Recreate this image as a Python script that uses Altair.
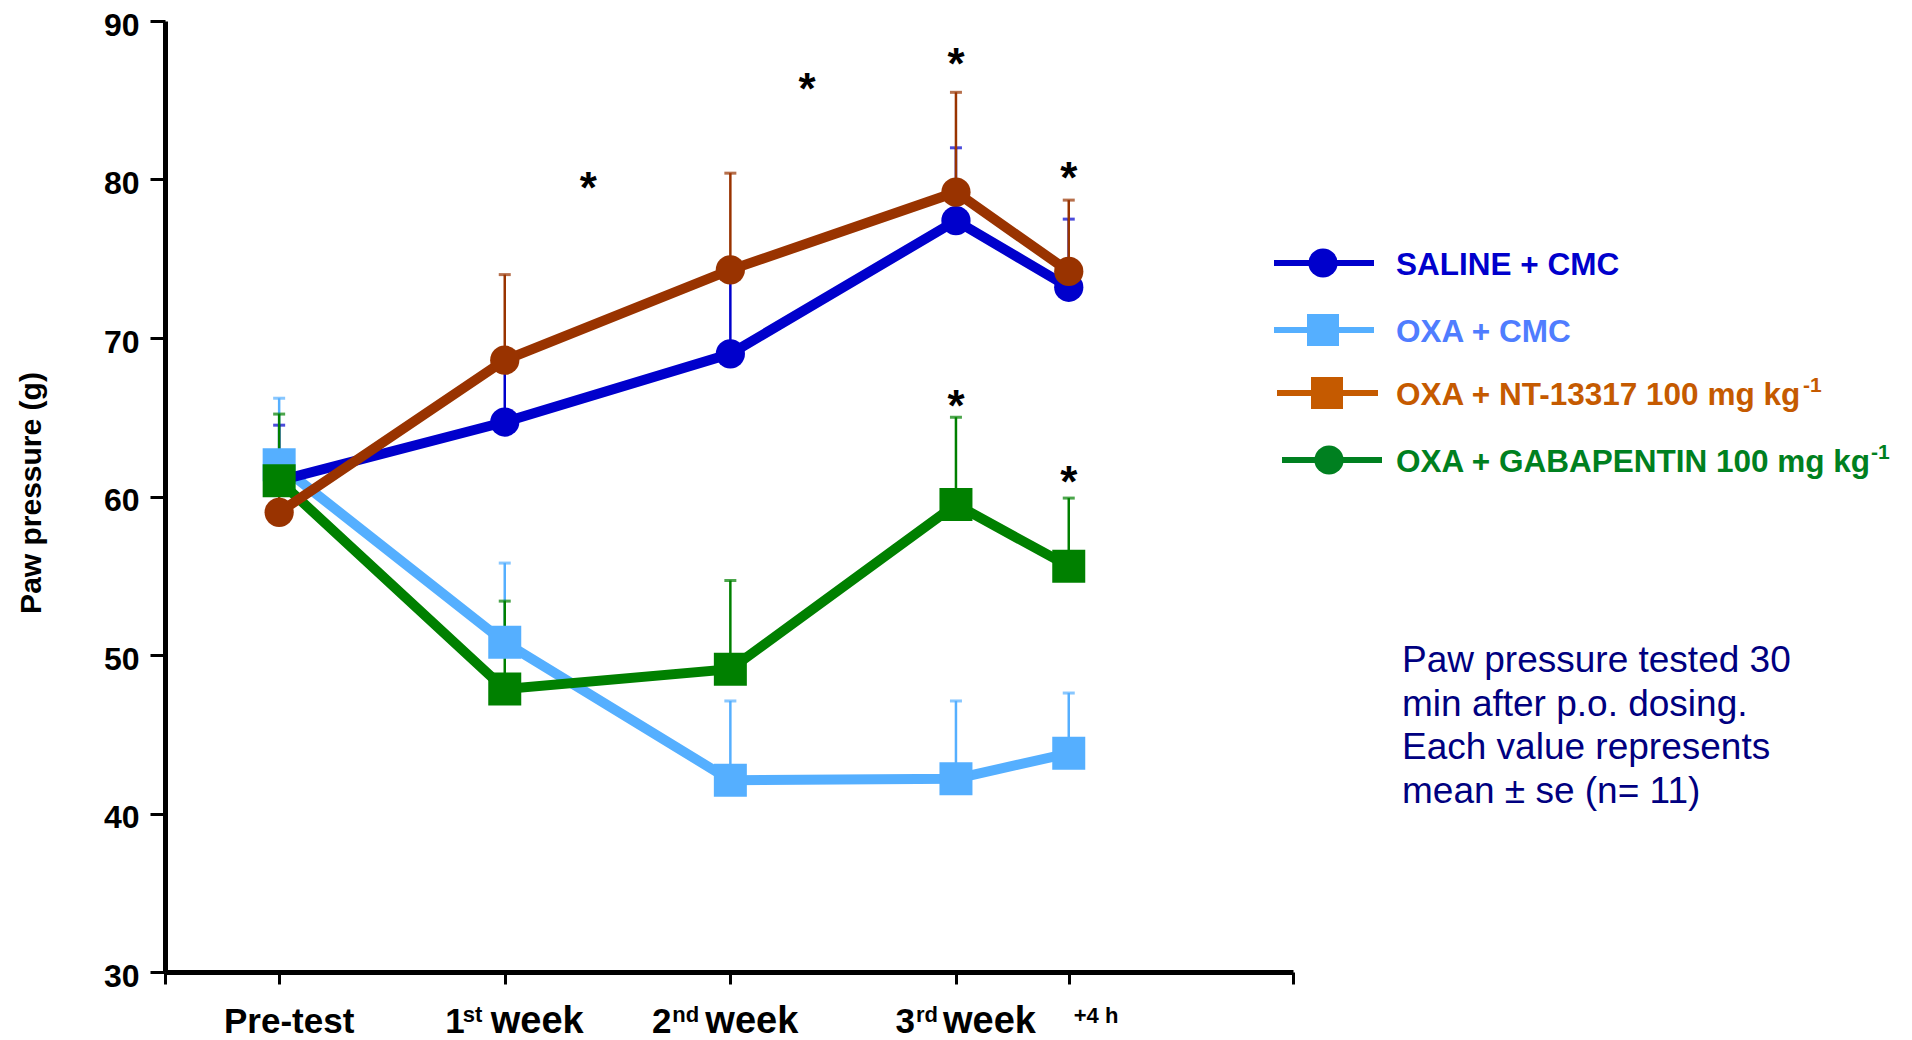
import altair as alt
import pandas as pd

# ---------------- data ----------------
timepoints = [0, 1, 2, 3, 3.5]
x_domain = [-0.506, 4.494]
y_ticks = [30, 40, 50, 60, 70, 80, 90]

series_names = ["OXA + CMC", "SALINE + CMC", "OXA + GABAPENTIN 100 mg kg-1", "OXA + NT-13317 100 mg kg-1"]
oxa_cmc_mean = [62.0, 50.8, 42.1, 42.2, 43.8]
oxa_cmc_upper = [66.2, 55.8, 47.1, 47.1, 47.6]
saline_mean = [61.0, 64.7, 69.0, 77.4, 73.2]
saline_upper = [64.5, 68.5, 74.5, 82.0, 77.5]
gaba_mean = [61.0, 47.85, 49.1, 59.5, 55.6]
gaba_upper = [65.2, 53.4, 54.7, 65.0, 59.9]
nt_mean = [59.0, 68.6, 74.3, 79.2, 74.2]
nt_upper = [62.5, 74.0, 80.4, 85.5, 78.7]

star_x = [1.37, 2.34, 3.0, 3.5, 3.0, 3.5]
star_y = [79.8, 86.0, 87.6, 80.4, 66.0, 61.25]

xlab_pos = [0, 1, 2, 3, 3.5]
xlab_num = ["Pre-test", "1", "2", "3", "+4 h"]
xlab_sup = ["", "st", "nd", "rd", ""]
xlab_word = ["", "week", "week", "week", ""]

legend_names = ["SALINE + CMC", "OXA + CMC", "OXA + NT-13317 100 mg kg", "OXA + GABAPENTIN 100 mg kg"]
legend_sup = ["", "", "-1", "-1"]

note_lines = ["Paw pressure tested 30", "min after p.o. dosing.",
              "Each value represents", "mean \u00b1 se (n= 11)"]
y_title = "Paw pressure (g)"

# ---------------- styles ----------------
plot_colors = ["#55AFFF", "#0000CC", "#008000", "#993300"]
plot_shapes = ["square", "circle", "square", "circle"]
means = [oxa_cmc_mean, saline_mean, gaba_mean, nt_mean]
uppers = [oxa_cmc_upper, saline_upper, gaba_upper, nt_upper]

legend_line_color = ["#0000CC", "#55AFFF", "#C55A00", "#008020"]
legend_text_color = ["#0000CC", "#4F7DFF", "#C55A00", "#008020"]
legend_shape = ["circle", "square", "square", "circle"]
legend_y = [242, 309, 372, 439]
legend_x1 = [1109, 1109, 1112, 1117]
legend_x2 = [1209, 1209, 1213, 1217]
legend_mx = [1158, 1158, 1162, 1164]
legend_text_x = 1231
legend_sup_x = [0, 0, 1638, 1706]

BOLD = "Liberation Sans"

x_axis = alt.Axis(values=[x_domain[0]] + timepoints + [x_domain[1]], labels=False, title=None,
                  grid=False, domainWidth=5, domainColor="black", tickColor="black",
                  tickWidth=3, tickSize=12)
y_axis = alt.Axis(values=y_ticks, title=None, grid=False, domainWidth=5, domainColor="black",
                  tickColor="black", tickWidth=3, tickSize=15, labelFont=BOLD,
                  labelFontWeight="bold", labelFontSize=32, labelColor="black", labelPadding=11,
                  labelOffset=4)


def X(field):
    return alt.X(f"{field}:Q", scale=alt.Scale(domain=x_domain, nice=False, zero=False), axis=x_axis)


def Y(field):
    return alt.Y(f"{field}:Q", scale=alt.Scale(domain=[30, 90], nice=False, zero=False), axis=y_axis)


one = pd.DataFrame({"k": [0]})
layers = []

# error bars
for name, m, u, c in zip(series_names, means, uppers, plot_colors):
    df = pd.DataFrame({"t": timepoints, "mean": m, "upper": u})
    base = alt.Chart(df)
    layers.append(base.mark_rule(color=c, strokeWidth=2.5).encode(x=X("t"), y=Y("mean"), y2="upper"))
    layers.append(base.mark_tick(color=c, orient="horizontal", size=12, thickness=3)
                  .encode(x=X("t"), y=Y("upper")))

# lines and markers
for name, m, c, s in zip(series_names, means, plot_colors, plot_shapes):
    df = pd.DataFrame({"t": timepoints, "mean": m})
    base = alt.Chart(df)
    layers.append(base.mark_line(color=c, strokeWidth=10).encode(x=X("t"), y=Y("mean")))
    layers.append(base.mark_point(shape=s, filled=True, opacity=1, color=c,
                                  size=855 if s == "circle" else 1089)
                  .encode(x=X("t"), y=Y("mean")))

# significance stars
stars = pd.DataFrame({"t": star_x, "v": star_y})
layers.append(alt.Chart(stars).mark_text(text="*", font=BOLD, fontWeight="bold", fontSize=44,
                                         color="black", baseline="alphabetic", dy=20)
              .encode(x=X("t"), y=Y("v")))

# x tick labels
num_dx = [10, -40, -59, -41, 5]
num_align = ["center", "right", "right", "right", "left"]
sup_dx = [0, -42, -58, -40, 0]
word_dx = [0, -14, -25, -13, 0]
for i, p in enumerate(xlab_pos):
    d = pd.DataFrame({"t": [p]})
    small = xlab_num[i].startswith("+")
    layers.append(alt.Chart(d).mark_text(text=xlab_num[i], font=BOLD, fontWeight="bold",
                                         fontSize=22 if small else 35, color="black",
                                         align=num_align[i], baseline="alphabetic", dx=num_dx[i])
                  .encode(x=X("t"), y=alt.value(1002 if small else 1012)))
    if xlab_sup[i]:
        layers.append(alt.Chart(d).mark_text(text=xlab_sup[i], font=BOLD, fontWeight="bold",
                                             fontSize=22, color="black", align="left",
                                             baseline="alphabetic", dx=sup_dx[i])
                      .encode(x=X("t"), y=alt.value(1001)))
    if xlab_word[i]:
        layers.append(alt.Chart(d).mark_text(text=xlab_word[i], font=BOLD, fontWeight="bold",
                                             fontSize=38, color="black", align="left",
                                             baseline="alphabetic", dx=word_dx[i])
                      .encode(x=X("t"), y=alt.value(1012)))

# y axis title
layers.append(alt.Chart(one).mark_text(text=y_title, font=BOLD, fontWeight="bold", fontSize=30,
                                       color="black", angle=270, align="center", baseline="middle")
              .encode(x=alt.value(-133), y=alt.value(472)))

# legend
for i, nm in enumerate(legend_names):
    c = legend_line_color[i]
    layers.append(alt.Chart(one).mark_rule(color=c, strokeWidth=6)
                  .encode(x=alt.value(legend_x1[i]), x2=alt.value(legend_x2[i]), y=alt.value(legend_y[i])))
    layers.append(alt.Chart(one).mark_point(shape=legend_shape[i], filled=True, opacity=1, color=c,
                                            size=855 if legend_shape[i] == "circle" else 1024)
                  .encode(x=alt.value(legend_mx[i]), y=alt.value(legend_y[i])))
    layers.append(alt.Chart(one).mark_text(text=nm, font=BOLD, fontWeight="bold", fontSize=31.5,
                                           color=legend_text_color[i], align="left",
                                           baseline="alphabetic", dy=11.5)
                  .encode(x=alt.value(legend_text_x), y=alt.value(legend_y[i])))
    if legend_sup[i]:
        layers.append(alt.Chart(one).mark_text(text=legend_sup[i], font=BOLD, fontWeight="bold",
                                               fontSize=21, color=legend_text_color[i], align="left",
                                               baseline="alphabetic", dy=-1)
                      .encode(x=alt.value(legend_sup_x[i]), y=alt.value(legend_y[i])))

# note
layers.append(alt.Chart(one).mark_text(text=note_lines, font="Liberation Sans", fontSize=37,
                                       color="#000080", align="left", baseline="alphabetic",
                                       lineHeight=43.5)
              .encode(x=alt.value(1237), y=alt.value(651)))

chart = alt.layer(*layers).properties(
    width=1128, height=951,
    padding={"left": 157, "top": 13, "right": 605, "bottom": 68},
    autosize=alt.AutoSizeParams(type="none"),
).configure_view(strokeWidth=0)

chart.save("out.html", embed_options={"renderer": "svg", "actions": False})
